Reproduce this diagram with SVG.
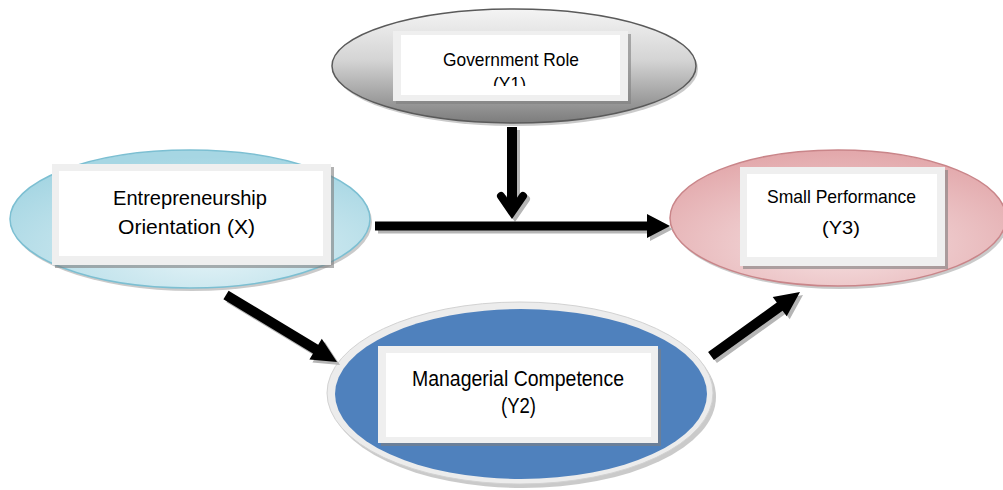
<svg xmlns="http://www.w3.org/2000/svg" xmlns:xlink="http://www.w3.org/1999/xlink" width="1003" height="490" viewBox="0 0 1003 490">
<style>
  .lbl { font-family: "Liberation Sans", Arial, sans-serif; fill: #000; text-anchor: middle; }
  .frame { fill: #efefef; }
  .inner { fill: #ffffff; }
  .bshadow { fill: #7f7f7f; opacity: 0.6; }
  .eshadow { fill: #8a8a8a; opacity: 0.45; }
  .arrow { fill: #000; }
  .ashadow { fill: #b5b5b5; }
</style>
<defs>
  <linearGradient id="gGov" x1="0" y1="0" x2="0" y2="1">
    <stop offset="0" stop-color="#f4f4f4"/>
    <stop offset="0.45" stop-color="#d4d4d4"/>
    <stop offset="1" stop-color="#7c7c7c"/>
  </linearGradient>
  <radialGradient id="gEnt" cx="0.55" cy="0.75" r="0.7">
    <stop offset="0" stop-color="#e4f3f7"/>
    <stop offset="1" stop-color="#a6d6e3"/>
  </radialGradient>
  <radialGradient id="gSmall" cx="0.5" cy="0.7" r="0.7">
    <stop offset="0" stop-color="#f6e2e3"/>
    <stop offset="1" stop-color="#e2a7aa"/>
  </radialGradient>
  <clipPath id="clipGov">
    <rect x="401" y="35" width="219" height="51"/>
  </clipPath>
  <path id="aH" d="M375,221.5 L647,221.5 L647,214 L670,226 L647,238 L647,230.5 L375,230.5 Z"/>
  <path id="aL" d="M228.6,290.7 L318.2,344.8 L321.8,338.8 L337,362 L309.4,359.4 L313,353.4 L223.4,299.3 Z"/>
  <path id="aR" d="M708.1,351.9 L776.8,302.5 L772.7,296.9 L800,292 L786.7,316.3 L782.6,310.7 L713.9,360.1 Z"/>
  <g id="aV">
    <line x1="512" y1="127" x2="512" y2="208" stroke-width="10" stroke-linecap="butt"/>
    <polyline points="501,196 512,212 523,196" fill="none" stroke-width="8" stroke-linecap="round" stroke-linejoin="miter"/>
  </g>
</defs>

<g id="node-government">
  <ellipse class="eshadow" cx="516" cy="69" rx="182" ry="57"/>
  <ellipse cx="514" cy="66" rx="182" ry="57" fill="url(#gGov)" stroke="#5a5a5a" stroke-width="1.5"/>
  <rect class="bshadow" x="396" y="34" width="235" height="70"/>
  <rect class="frame" x="393" y="31" width="235" height="70"/>
  <rect class="inner" x="401" y="35" width="219" height="60"/>
  <text class="lbl" x="511" y="66" font-size="19" textLength="136" lengthAdjust="spacingAndGlyphs">Government Role</text>
  <text class="lbl" x="509.5" y="90" font-size="19" textLength="33" lengthAdjust="spacingAndGlyphs" clip-path="url(#clipGov)">(Y1)</text>
</g>

<g id="node-entrepreneurship">
  <ellipse class="eshadow" cx="192" cy="222" rx="180" ry="69"/>
  <ellipse cx="190" cy="219" rx="180" ry="69" fill="url(#gEnt)" stroke="#7cbfd2" stroke-width="1.5"/>
  <rect class="bshadow" x="55" y="167" width="279" height="101"/>
  <rect class="frame" x="52" y="164" width="279" height="101"/>
  <rect class="inner" x="59" y="171" width="264" height="85"/>
  <text class="lbl" x="190" y="205" font-size="20.5" textLength="154" lengthAdjust="spacingAndGlyphs">Entrepreneurship</text>
  <text class="lbl" x="186.5" y="234" font-size="20.5" textLength="137" lengthAdjust="spacingAndGlyphs">Orientation (X)</text>
</g>

<g id="node-small-performance">
  <ellipse class="eshadow" cx="840" cy="221" rx="168" ry="68"/>
  <ellipse cx="838" cy="218" rx="168" ry="68" fill="url(#gSmall)" stroke="#c98589" stroke-width="1.5"/>
  <rect class="bshadow" x="743" y="170" width="205" height="99"/>
  <rect class="frame" x="740" y="167" width="205" height="99"/>
  <rect class="inner" x="747" y="174" width="190" height="83"/>
  <text class="lbl" x="841.5" y="203" font-size="18.5" textLength="149" lengthAdjust="spacingAndGlyphs">Small Performance</text>
  <text class="lbl" x="841" y="234" font-size="18.5" textLength="38" lengthAdjust="spacingAndGlyphs">(Y3)</text>
</g>

<g id="node-managerial">
  <ellipse class="eshadow" cx="523" cy="397" rx="193" ry="91"/>
  <ellipse cx="520" cy="393" rx="193" ry="91" fill="#ececec" stroke="#d2d2d2" stroke-width="1"/>
  <ellipse cx="521" cy="394" rx="186" ry="85" fill="#4f81bd"/>
  <rect class="bshadow" x="381" y="349" width="280" height="97"/>
  <rect class="frame" x="378" y="346" width="280" height="97"/>
  <rect class="inner" x="386" y="353" width="265" height="84"/>
  <text class="lbl" x="518" y="386" font-size="21.5" textLength="212" lengthAdjust="spacingAndGlyphs">Managerial Competence</text>
  <text class="lbl" x="518.5" y="413" font-size="21.5" textLength="35" lengthAdjust="spacingAndGlyphs">(Y2)</text>
</g>

<g id="connectors">
  <g transform="translate(3,3)">
    <use xlink:href="#aH" class="ashadow"/>
    <use xlink:href="#aL" class="ashadow"/>
    <use xlink:href="#aR" class="ashadow"/>
    <use xlink:href="#aV" stroke="#b5b5b5"/>
  </g>
  <use xlink:href="#aH" class="arrow"/>
  <use xlink:href="#aL" class="arrow"/>
  <use xlink:href="#aR" class="arrow"/>
  <use xlink:href="#aV" stroke="#000"/>
</g>
</svg>
